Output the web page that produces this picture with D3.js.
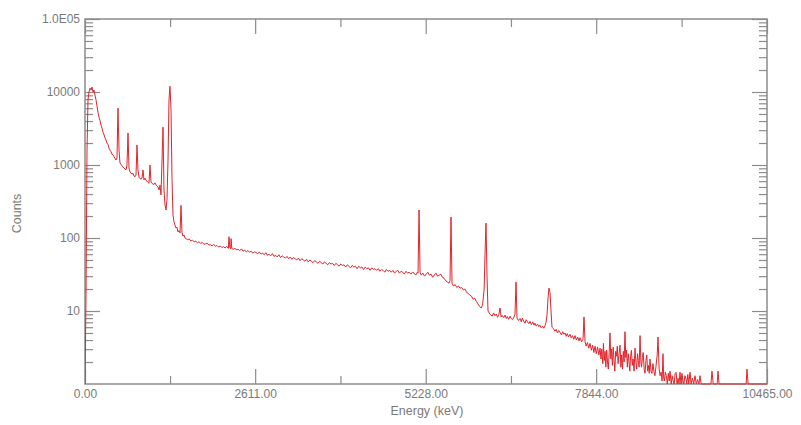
<!DOCTYPE html>
<html><head><meta charset="utf-8">
<script src="https://cdn.jsdelivr.net/npm/d3@7"></script>
<style>body{margin:0;background:#fff}text{font-family:"Liberation Sans",Arial,sans-serif}</style>
</head><body><svg id="chart" width="801" height="425"></svg>
<script>
// ---- axis definitions ----
const xTicks = [0, 2611, 5228, 7844, 10465];
const xTickLabels = ["0.00", "2611.00", "5228.00", "7844.00", "10465.00"];
const yTicks = [10, 100, 1000, 10000, 100000];
const yTickLabels = ["10", "100", "1000", "10000", "1.0E05"];
const xTitle = "Energy (keV)";
const yTitle = "Counts";

// ---- spectrum data: [energy keV, counts] ----
const spectrumLow = [
  [0,1],[15,14],[31,1600],[46,7800],[61,10000],[77,11300],[92,10600],[107,11700],[123,10000],[138,10600],
  [153,9100],[169,7800],[184,6400],[199,5300],[215,4500],[230,4100],[246,3500],[261,3200],[277,2800],[292,2600],
  [307,2350],[322,2200],[338,2000],[353,1900],[369,1700],[384,1600],[399,1520],[414,1400],[430,1380],[445,1300],
  [460,1230],[476,1170],[491,1250],[506,6000],[522,1600],[537,1070],[552,1020],[568,970],[583,940],[598,910],
  [614,880],[629,855],[644,1000],[660,2740],[675,910],[691,800],[706,780],[721,750],[737,770],[752,705],
  [767,690],[783,730],[798,1880],[813,860],[829,680],[844,650],[859,640],[875,660],[890,855],[905,625],
  [921,660],[936,615],[952,600],[967,580],[982,560],[997,1000],[1013,585],[1028,560],[1043,550],[1059,540],
  [1074,570],[1090,530],[1105,516],[1120,500],[1136,455],[1151,530],[1166,390],[1182,1170],[1197,3300],[1212,455],
  [1228,283],[1243,242],[1258,330],[1274,1170],[1289,7770],[1304,12000],[1320,5670],[1335,640],[1350,207],[1366,166],
  [1381,150],[1396,137],[1412,140],[1427,121],[1443,126],[1458,117],[1473,280],[1488,120],[1504,106],[1520,110],
  [1535,100]
];
const spectrumMid = [
  [1550,98],[1575,95],[1600,97],[1625,91],[1650,93],[1675,89],[1700,90],[1725,86],[1750,89],[1775,84],
  [1800,87],[1825,82],[1850,83],[1875,85],[1900,80],[1925,81],[1950,78],[1975,82],[2000,77],[2025,79],
  [2050,75],[2075,78],[2100,74],[2125,76],[2150,73],[2175,77],[2200,72],[2210,104],[2222,74],[2235,71],
  [2242,98],[2252,72],[2275,70],[2300,72],[2325,69],[2350,70],[2375,67],[2400,71],[2425,66],[2450,68],
  [2475,65],[2500,67],[2525,64],[2550,66],[2575,62],[2600,65],[2625,63],[2650,61],[2675,64],[2700,60],
  [2725,62],[2750,59],[2775,63],[2800,58],[2825,60],[2850,57],[2875,61],[2900,56],[2925,58],[2950,55],
  [2975,59],[3000,54],[3025,57],[3050,55],[3075,53],[3100,56],[3125,52],[3150,55],[3175,51],[3200,54],
  [3225,52],[3250,50],[3275,53],[3300,49],[3325,52],[3350,50],[3375,48],[3400,51],[3425,47],[3450,50],
  [3475,48],[3500,46],[3525,49],[3550,47],[3575,45],[3600,48],[3625,46],[3650,44],[3675,47],[3700,45],
  [3725,43],[3750,46],[3775,44],[3800,45],[3825,42],[3850,45],[3875,43],[3900,41],[3925,44],[3950,42],
  [3975,43],[4000,40],[4025,43],[4050,41],[4075,39],[4100,42],[4125,40],[4150,41],[4175,38],[4200,41],
  [4225,39],[4250,40],[4275,37],[4300,40],[4325,38],[4350,39],[4375,36],[4400,39],[4425,37],[4450,38],
  [4475,36],[4500,38],[4525,35],[4550,37],[4575,36],[4600,34],[4625,37],[4650,35],[4675,36],[4700,34],
  [4725,36],[4750,33],[4775,35],[4800,36],[4825,33],[4850,35],[4875,34],[4900,32],[4925,35],[4950,33],
  [4975,34],[5000,32],[5025,34],[5050,33],[5075,31],[5100,34]
];
const spectrumPeaks = [
  [5110,33],[5126,242],[5141,34],[5160,31],[5185,33],[5210,30],[5235,32],[5260,34],[5285,31],[5310,32],
  [5335,29],[5360,31],[5385,33],[5410,30],[5435,31],[5460,32],[5485,29],[5510,28],[5535,26],[5560,25],
  [5585,24],[5601,26],[5616,194],[5632,24],[5655,22],[5680,23],[5705,21],[5730,22],[5755,20.5],[5780,21],
  [5805,19.5],[5830,20],[5855,18],[5880,17.5],[5905,16.5],[5930,16],[5955,14.5],[5980,15],[6005,13.5],[6030,12.5],
  [6055,11.5],[6080,11],[6100,12],[6125,20],[6138,60],[6153,160],[6169,30],[6184,10],[6215,9],[6250,8.5],
  [6270,9.4],[6291,8.6],[6310,9.1],[6330,8.2],[6350,8.9],[6368,11],[6385,8.3],[6400,8.7],[6425,8.1],[6445,8.8],
  [6465,7.9],[6480,8.4],[6500,7.7],[6522,8.5],[6540,7.9],[6560,7.6],[6580,8.2],[6598,9],[6614,25],[6629,8],
  [6650,7.4],[6675,7.9],[6695,7.1],[6710,8],[6730,7.3],[6752,6.8],[6770,7.6],[6790,7.1],[6810,6.7],[6829,7.2],
  [6850,6.5],[6870,7.1],[6890,6.4],[6905,6.8],[6925,6.2],[6945,6.6],[6965,6.1],[6982,6.4],[7000,5.9],[7020,6.2],
  [7040,5.8],[7059,6.3],[7075,7],[7090,9],[7105,15],[7120,20.6],[7135,18],[7151,10],[7166,6],[7190,5.7],
  [7212,5.3],[7230,5.6],[7250,5],[7270,5.4],[7289,5.1],[7310,4.7],[7330,5.2],[7350,4.8],[7366,5],[7385,4.5],
  [7400,4.9],[7420,4.4],[7442,4.8],[7460,4.3],[7480,4.6],[7500,4.1],[7519,4.6],[7540,4.0],[7560,4.4],[7580,3.9],
  [7596,4.3],[7620,3.8],[7642,4.1],[7657,8.3],[7673,3.8],[7690,3.3],[7710,3.7],[7730,3.1],[7749,3.6],[7770,2.9],
  [7790,3.4],[7808,2.7],[7826,3.3],[7845,2.6],[7865,3.2],[7885,2.5],[7903,3.1]
];
const spectrumTail = [
  [7918,2.2],[7930,3.0],[7945,1.9],[7955,3.6],[7968,2.1],[7980,2.8],[7992,1.7],[8005,2.9],[8018,2.0],[8030,1.6],
  [8043,2.7],[8056,5],[8068,2.2],[8080,3.0],[8093,1.8],[8105,3.2],[8118,2.1],[8130,1.5],[8143,2.8],[8155,2.4],
  [8168,3.3],[8180,1.9],[8195,2.6],[8210,3.4],[8222,1.7],[8235,2.5],[8248,1.6],[8260,2.8],[8273,2.0],[8286,5.2],
  [8298,2.3],[8310,2.9],[8322,1.7],[8335,2.6],[8348,2.0],[8360,1.5],[8372,2.4],[8385,2.9],[8398,1.8],[8410,2.2],
  [8425,1.5],[8440,3.1],[8452,2.0],[8465,1.6],[8478,2.6],[8490,2.1],[8503,1.7],[8517,4.6],[8530,2.0],[8540,1.7],
  [8553,2.3],[8565,2.7],[8580,1.6],[8593,1.4],[8607,2.1],[8620,2.5],[8633,1.5],[8645,1.8],[8658,1.4],[8670,2.2],
  [8685,1.5],[8700,1.4],[8715,1.9],[8730,1.5],[8745,1.3],[8760,1.7],[8780,2.5],[8793,4.4],[8810,1.6],[8825,1.3],
  [8840,1.45],[8855,1.1],[8869,2.6],[8880,1.2],[8890,1.1],[8905,1.45],[8920,1.3],[8935,1.0],[8950,1.4],[8965,1.1],
  [8977,1.5],[8995,1.0],[9010,1.3],[9025,1.1],[9040,1.0],[9055,1.4],[9070,1.45],[9085,1.0],[9100,1.2],[9115,1.0],
  [9130,1.45],[9145,1.0],[9160,1.4],[9175,1.1],[9190,1.0],[9205,1.3],[9220,1.2],[9235,1.0],[9250,1.35],[9265,1.0],
  [9284,1.45],[9300,1.0],[9320,1.2],[9340,1.0],[9360,1.3],[9380,1.0],[9400,1.15],[9420,1.0],[9437,1.3],[9455,1.0],
  [9480,1.0],[9520,1.0],[9560,1.0],[9605,1.0],[9621,1.5],[9640,1.0],[9700,1.0],[9713,1.5],[9730,1.0],[9800,1.0],
  [9900,1.0],[10000,1.0],[10100,1.0],[10145,1.0],[10158,1.6],[10175,1.0],[10300,1.0],[10465,1.0]
];

const spectrum = spectrumLow.concat(spectrumMid, spectrumPeaks, spectrumTail);

// ---- layout ----
const plot = {left: 85, right: 767, top: 19, bottom: 384};
const axisColor = "#8c8c8c", labelColor = "#7a7a7a", lineColor = "#e3242b";
const majorLen = 15, minorLen = 8;

const svg = d3.select("#chart");
const x = d3.scaleLinear().domain([0, 10465]).range([plot.left, plot.right]);
const y = d3.scaleLog().domain([1, 100000]).range([plot.bottom, plot.top]).clamp(true);

const xMinor = xTicks.slice(0, -1).map((v, i) => (v + xTicks[i + 1]) / 2);
const yMinor = [];
for (let p = 0; p < 5; p++) for (let m = 2; m <= 9; m++) yMinor.push(m * Math.pow(10, p));

function styleAxis(g) {
  g.select(".domain").remove();
  g.selectAll(".tick line").attr("stroke", axisColor).attr("stroke-width", 1.2);
  g.selectAll(".tick text").attr("fill", labelColor).style("font-size", "12px");
}

svg.append("g").attr("transform", `translate(0,${plot.bottom})`)
  .call(d3.axisBottom(x).tickValues(xTicks).tickSize(-majorLen).tickPadding(5)
    .tickFormat((d, i) => xTickLabels[i])).call(styleAxis);
svg.append("g").attr("transform", `translate(0,${plot.bottom})`)
  .call(d3.axisBottom(x).tickValues(xMinor).tickSize(-minorLen).tickFormat("")).call(styleAxis);
svg.append("g").attr("transform", `translate(0,${plot.top})`)
  .call(d3.axisTop(x).tickValues(xTicks).tickSize(-majorLen).tickFormat("")).call(styleAxis);
svg.append("g").attr("transform", `translate(0,${plot.top})`)
  .call(d3.axisTop(x).tickValues(xMinor).tickSize(-minorLen).tickFormat("")).call(styleAxis);
svg.append("g").attr("transform", `translate(${plot.left},0)`)
  .call(d3.axisLeft(y).tickValues(yTicks).tickSize(-majorLen).tickPadding(5)
    .tickFormat((d, i) => yTickLabels[i])).call(styleAxis);
svg.append("g").attr("transform", `translate(${plot.left},0)`)
  .call(d3.axisLeft(y).tickValues(yMinor).tickSize(-minorLen).tickFormat("")).call(styleAxis);
svg.append("g").attr("transform", `translate(${plot.right},0)`)
  .call(d3.axisRight(y).tickValues(yTicks).tickSize(-majorLen).tickFormat("")).call(styleAxis);
svg.append("g").attr("transform", `translate(${plot.right},0)`)
  .call(d3.axisRight(y).tickValues(yMinor).tickSize(-minorLen).tickFormat("")).call(styleAxis);

svg.append("rect")
  .attr("x", plot.left).attr("y", plot.top)
  .attr("width", plot.right - plot.left).attr("height", plot.bottom - plot.top)
  .attr("fill", "none").attr("stroke", axisColor).attr("stroke-width", 1.5);

svg.append("clipPath").attr("id", "clip").append("rect")
  .attr("x", plot.left).attr("y", plot.top)
  .attr("width", plot.right - plot.left).attr("height", plot.bottom - plot.top + 1);
const line = d3.line().x(d => x(d[0])).y(d => y(Math.max(1, d[1])));
svg.append("path").datum(spectrum)
  .attr("clip-path", "url(#clip)")
  .attr("fill", "none").attr("stroke", lineColor).attr("stroke-width", 1)
  .attr("stroke-linejoin", "round").attr("d", line);

svg.append("text").attr("x", (plot.left + plot.right) / 2 + 1).attr("y", 415)
  .attr("text-anchor", "middle").attr("fill", labelColor).style("font-size", "12.5px").text(xTitle);
svg.append("text").attr("transform", `translate(21,${(plot.top + plot.bottom) / 2 + 12}) rotate(-90)`)
  .attr("text-anchor", "middle").attr("fill", labelColor).style("font-size", "12.5px").text(yTitle);
</script>
</body></html>
